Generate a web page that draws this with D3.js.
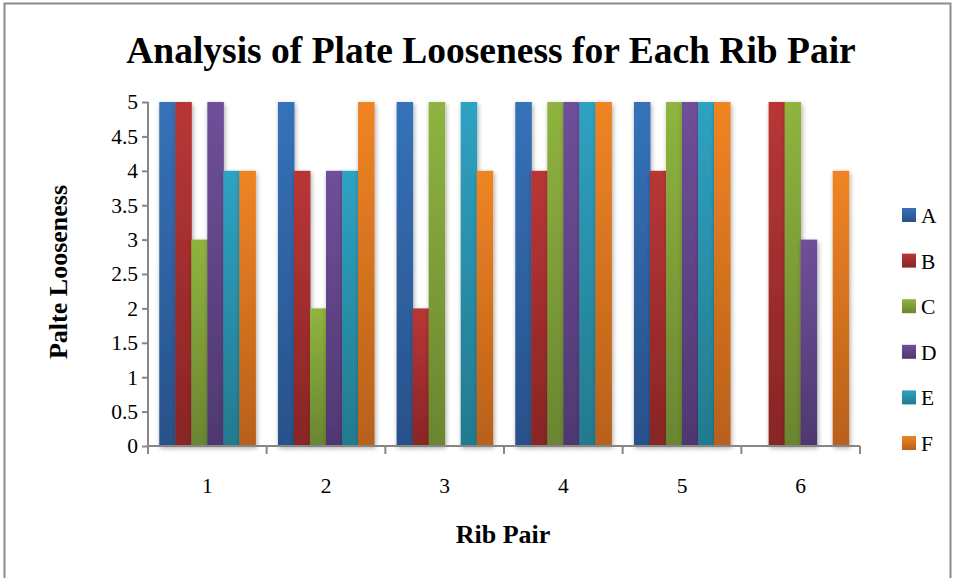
<!DOCTYPE html>
<html>
<head>
<meta charset="utf-8">
<script src="https://cdn.jsdelivr.net/npm/d3@7"></script>
<style>
  body { margin: 0; background: #fff; }
  svg text { font-family: "Liberation Serif", "Times New Roman", serif !important; fill: #000; }
</style>
</head>
<body>
<div id="chart-area"></div>
<script>
// data
const ribPairs = ["1", "2", "3", "4", "5", "6"];
const seriesNames = ["A", "B", "C", "D", "E", "F"];
const valA = [5, 5, 5, 5, 5, 0];
const valB = [5, 4, 2, 4, 4, 5];
const valC = [3, 2, 5, 5, 5, 5];
const valD = [5, 4, 0, 5, 5, 3];
const valE = [4, 4, 5, 5, 5, 0];
const valF = [4, 5, 4, 5, 5, 4];
const yTicks = [0, 0.5, 1, 1.5, 2, 2.5, 3, 3.5, 4, 4.5, 5];

const seriesValues = [valA, valB, valC, valD, valE, valF];
// top / bottom of each bar gradient
const topColors = ["#3572b9", "#b93636", "#8fb43f", "#704f9a", "#2fa2c2", "#f08424"];
const botColors = ["#28518a", "#882525", "#6a8531", "#4f3870", "#237a8e", "#b8601a"];

const canvasWidth = 954, canvasHeight = 578;
const margin = {top: 102, left: 148, bottom: 132, right: 96};
const graphWidth = 860 - margin.left;
const graphHeight = 446 - margin.top;

const svg = d3.select("#chart-area")
    .append("svg")
        .attr("width", canvasWidth)
        .attr("height", canvasHeight);

// outer frame
svg.append("rect")
    .attr("x", 4.5).attr("y", 3.5)
    .attr("width", 946).attr("height", 600)
    .attr("fill", "none")
    .attr("stroke", "#8c8c8c")
    .attr("stroke-width", 2);

const defs = svg.append("defs");
seriesNames.forEach((s, i) => {
    const g = defs.append("linearGradient")
        .attr("id", "grad" + s)
        .attr("x1", 0).attr("y1", 0).attr("x2", 0).attr("y2", 1);
    g.append("stop").attr("offset", "0%").attr("stop-color", topColors[i]);
    g.append("stop").attr("offset", "100%").attr("stop-color", botColors[i]);
});
const shadow = defs.append("filter").attr("id", "shadow")
    .attr("x", "-30%").attr("y", "-10%").attr("width", "160%").attr("height", "120%");
shadow.append("feGaussianBlur").attr("in", "SourceAlpha").attr("stdDeviation", 2.5);
shadow.append("feOffset").attr("dx", 1).attr("dy", 2).attr("result", "blur");
shadow.append("feComponentTransfer").append("feFuncA").attr("type", "linear").attr("slope", 0.35);
const merge = shadow.append("feMerge");
merge.append("feMergeNode");
merge.append("feMergeNode").attr("in", "SourceGraphic");

const main = svg.append("g")
    .attr("transform", "translate(" + margin.left + ", " + margin.top + ")");

// scales
const x0 = d3.scaleBand()
    .domain(ribPairs)
    .range([0, graphWidth])
    .paddingInner(0.19)
    .paddingOuter(0.095);
const x1 = d3.scaleBand()
    .domain(seriesNames)
    .range([0, x0.bandwidth()]);
const y = d3.scaleLinear()
    .domain([0, 5])
    .range([graphHeight, 0]);

// bars
const groups = main.selectAll("g.rib")
    .data(ribPairs)
    .enter().append("g")
        .attr("class", "rib")
        .attr("transform", d => "translate(" + x0(d) + ",0)");

groups.selectAll("rect")
    .data((d, gi) => seriesNames.map((s, si) => ({s: s, v: seriesValues[si][gi]})))
    .enter().append("rect")
        .filter(d => d.v > 0)
        .attr("x", d => x1(d.s))
        .attr("y", d => y(d.v))
        .attr("width", x1.bandwidth() + 0.5)
        .attr("height", d => graphHeight - y(d.v))
        .attr("fill", d => "url(#grad" + d.s + ")")
        .attr("filter", "url(#shadow)");

// axes
const axisColor = "#868686";
const yAxis = d3.axisLeft(y)
    .tickValues(yTicks)
    .tickSize(6)
    .tickPadding(4)
    .tickFormat(d => d);
const yAxisGroup = main.append("g").call(yAxis)
    .attr("font-family", null).attr("font-size", null);
yAxisGroup.select(".domain").attr("stroke", axisColor).attr("stroke-width", 2).attr("d", "M0,0V" + graphHeight);
yAxisGroup.selectAll(".tick line").attr("stroke", axisColor).attr("stroke-width", 2);
yAxisGroup.selectAll(".tick text")
    .style("font-size", "21.5px");

const xAxisGroup = main.append("g")
    .attr("transform", "translate(0," + graphHeight + ")");
xAxisGroup.append("line")
    .attr("x1", 0).attr("x2", graphWidth)
    .attr("stroke", axisColor).attr("stroke-width", 2);
const boundaries = d3.range(ribPairs.length + 1).map(i => i * graphWidth / ribPairs.length);
xAxisGroup.selectAll("line.tick")
    .data(boundaries)
    .enter().append("line")
        .attr("class", "tick")
        .attr("x1", d => d).attr("x2", d => d)
        .attr("y1", 0).attr("y2", 8)
        .attr("stroke", axisColor).attr("stroke-width", 2);
xAxisGroup.selectAll("text")
    .data(ribPairs)
    .enter().append("text")
        .attr("x", d => x0(d) + x0.bandwidth() / 2)
        .attr("y", 47)
        .attr("text-anchor", "middle")
        .style("font-size", "21.5px")
        .text(d => d);

// title
svg.append("text")
    .attr("x", 491)
    .attr("y", 63)
    .attr("text-anchor", "middle")
    .style("font-size", "37.5px")
    .attr("font-weight", "bold")
    .text("Analysis of Plate Looseness for Each Rib Pair");

// axis labels
svg.append("text")
    .attr("transform", "rotate(-90)")
    .attr("x", -272)
    .attr("y", 67)
    .attr("text-anchor", "middle")
    .style("font-size", "26px")
    .attr("font-weight", "bold")
    .text("Palte Looseness");

svg.append("text")
    .attr("x", 503)
    .attr("y", 543)
    .attr("text-anchor", "middle")
    .style("font-size", "26px")
    .attr("font-weight", "bold")
    .text("Rib Pair");

// legend
const legend = svg.append("g")
    .attr("transform", "translate(902, 208)");
seriesNames.forEach((s, i) => {
    const row = legend.append("g")
        .attr("transform", "translate(0," + (i * 45.6) + ")");
    row.append("rect")
        .attr("width", 14).attr("height", 14)
        .attr("fill", "url(#grad" + s + ")");
    row.append("text")
        .attr("x", 19).attr("y", 15)
        .style("font-size", "21.5px")
        .text(s);
});
</script>
</body>
</html>
